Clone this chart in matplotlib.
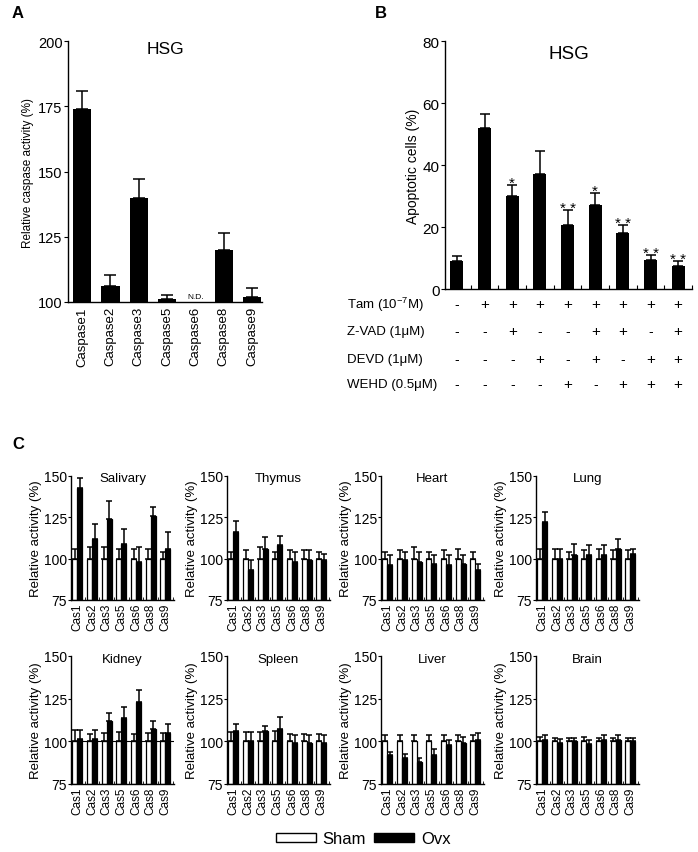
import numpy as np
import matplotlib
matplotlib.use('Agg')
import matplotlib.pyplot as plt
from matplotlib.patches import Patch
from matplotlib.transforms import blended_transform_factory

plt.rcParams['font.family'] = ['Liberation Sans', 'DejaVu Sans']
plt.rcParams['mathtext.fontset'] = 'custom'
plt.rcParams['mathtext.rm'] = 'Liberation Sans'
plt.rcParams['mathtext.default'] = 'rm'
plt.rcParams['axes.linewidth'] = 1.0

# Panel A: HSG caspase activity
caspases = ['Caspase1', 'Caspase2', 'Caspase3', 'Caspase5', 'Caspase6', 'Caspase8', 'Caspase9']
hsg_activity = [174, 106, 140, 101, np.nan, 120, 102]
hsg_activity_err = [7, 4.5, 7, 1.5, np.nan, 6.5, 3.5]

# Panel B: apoptotic cells
apoptotic = [9, 52, 30, 37, 20.5, 27, 18, 9.5, 7.5]
apoptotic_err = [1.5, 4.5, 3.5, 7.5, 5, 4, 2.5, 1.5, 1.5]
apoptotic_sig = ['', '', '*', '', '**', '*', '**', '**', '**']
treat_names = ['Tam (10$^{-7}$M)', 'Z-VAD (1μM)', 'DEVD (1μM)', 'WEHD (0.5μM)']
tam = ['-', '+', '+', '+', '+', '+', '+', '+', '+']
zvad = ['-', '-', '+', '-', '-', '+', '+', '-', '+']
devd = ['-', '-', '-', '+', '-', '+', '-', '+', '+']
wehd = ['-', '-', '-', '-', '+', '-', '+', '+', '+']

# Panel C: tissues, Sham vs Ovx
cas_labels = ['Cas1', 'Cas2', 'Cas3', 'Cas5', 'Cas6', 'Cas8', 'Cas9']
organs = ['Salivary', 'Thymus', 'Heart', 'Lung', 'Kidney', 'Spleen', 'Liver', 'Brain']
sham = [100, 100, 100, 100, 100, 100, 100]

salivary_sham_err = [6, 7, 7, 6, 6, 6, 4]
salivary_ovx = [143, 112, 124, 109, 98, 126, 106]
salivary_ovx_err = [6, 9, 11, 9, 9, 5, 10]

thymus_sham_err = [4, 5, 7, 4, 5, 5, 4]
thymus_ovx = [116, 93, 106, 108, 98, 99, 99]
thymus_ovx_err = [7, 6, 7, 6, 6, 6, 4]

heart_sham_err = [4, 5, 7, 4, 5, 6, 4]
heart_ovx = [96, 99, 98, 97, 96, 97, 93]
heart_ovx_err = [6, 5, 6, 5, 6, 5, 4]

lung_sham_err = [6, 6, 4, 5, 6, 5, 5]
lung_ovx = [122, 100, 102, 102, 102, 106, 103]
lung_ovx_err = [6, 6, 7, 6, 6, 6, 3]

kidney_sham_err = [6.5, 4.5, 5, 5.5, 4.5, 5, 5]
kidney_ovx = [101.5, 101.5, 112, 113.5, 123, 107, 105]
kidney_ovx_err = [5, 5, 4.5, 6.5, 7, 5, 5]

spleen_sham_err = [5.5, 5.5, 5.5, 6, 4.5, 4.5, 4.5]
spleen_ovx = [106, 100, 106, 107, 99, 99, 99]
spleen_ovx_err = [4, 5.5, 3, 7, 4.5, 5, 5]

liver_sham_err = [3.5, 4, 4, 4, 4, 4, 4]
liver_ovx = [92, 90, 88, 92, 98, 99, 101]
liver_ovx_err = [2, 2.5, 2.5, 3.5, 3, 3.5, 4]

brain_sham_err = [2.5, 2, 2, 2.5, 2, 2, 2]
brain_ovx = [101, 99, 100, 98.5, 101, 101, 100]
brain_ovx_err = [3, 2.5, 2, 2.5, 2.5, 2.5, 2]

organ_data = [
    (salivary_sham_err, salivary_ovx, salivary_ovx_err),
    (thymus_sham_err, thymus_ovx, thymus_ovx_err),
    (heart_sham_err, heart_ovx, heart_ovx_err),
    (lung_sham_err, lung_ovx, lung_ovx_err),
    (kidney_sham_err, kidney_ovx, kidney_ovx_err),
    (spleen_sham_err, spleen_ovx, spleen_ovx_err),
    (liver_sham_err, liver_ovx, liver_ovx_err),
    (brain_sham_err, brain_ovx, brain_ovx_err),
]

W, H = 698, 853
fig = plt.figure(figsize=(W / 100, H / 100), dpi=100)


def px_axes(left, top, right, bottom):
    return fig.add_axes([left / W, 1 - bottom / H, (right - left) / W, (bottom - top) / H])


def upper_err(ax, x, y, err, capsize=3.5):
    y = np.asarray(y, float)
    err = np.asarray(err, float)
    ax.errorbar(x, y, yerr=[np.zeros_like(err), err], fmt='none', ecolor='black',
                elinewidth=1.1, capsize=capsize, capthick=1.1, zorder=1)


# ---- Panel A ----
axA = px_axes(68, 42, 262, 303)
xa = np.arange(len(caspases))
valsA = np.array(hsg_activity, float)
ok = ~np.isnan(valsA)
axA.bar(xa[ok], valsA[ok] - 100, bottom=100, width=0.64, color='black', zorder=2)
upper_err(axA, xa[ok], valsA[ok], np.array(hsg_activity_err)[ok], capsize=4)
for i in xa[~ok]:
    axA.text(i, 100.8, 'N.D.', ha='center', va='bottom', fontsize=6)
axA.set_ylim(100, 200)
axA.set_xlim(-0.5, 6.35)
axA.set_yticks([100, 125, 150, 175, 200])
axA.set_xticks(xa)
axA.set_xticklabels(caspases, rotation=90, fontsize=9.5)
axA.tick_params(axis='x', length=0, pad=3)
axA.tick_params(axis='y', labelsize=10.5, length=3, pad=1)
axA.set_ylabel('Relative caspase activity (%)', fontsize=8.5, labelpad=3)
axA.text(0.5, 0.97, 'HSG', transform=axA.transAxes, ha='center', va='center', fontsize=12.5)
for s in ['top', 'right']:
    axA.spines[s].set_visible(False)

# ---- Panel B ----
axB = px_axes(445, 42, 692, 290)
xb = np.arange(len(apoptotic))
axB.bar(xb, apoptotic, width=0.47, color='black', zorder=2)
upper_err(axB, xb, apoptotic, apoptotic_err, capsize=3.5)
for i, s in enumerate(apoptotic_sig):
    if s:
        axB.text(i, apoptotic[i] + apoptotic_err[i] - 1.5, ' '.join(s), ha='center',
                 va='bottom', fontsize=11)
axB.set_ylim(0, 80)
axB.set_xlim(-0.43, 8.4)
axB.set_yticks([0, 20, 40, 60, 80])
axB.set_xticks(xb + 0.5)
axB.set_xticklabels([])
axB.tick_params(axis='x', direction='in', length=3)
axB.tick_params(axis='y', labelsize=11, length=3, pad=1)
axB.set_ylabel('Apoptotic cells (%)', fontsize=10, labelpad=2)
axB.text(0.5, 0.95, 'HSG', transform=axB.transAxes, ha='center', va='center', fontsize=13.5)
for s in ['top', 'right']:
    axB.spines[s].set_visible(False)

trB = blended_transform_factory(axB.transData, fig.transFigure)
row_y = [305, 332, 360, 385]
for name, row, yy in zip(treat_names, [tam, zvad, devd, wehd], row_y):
    fig.text(347 / W, 1 - yy / H, name, ha='left', va='center', fontsize=9.5)
    for i, sign in enumerate(row):
        axB.text(i, 1 - yy / H, sign, transform=trB, ha='center', va='center',
                 fontsize=11 if sign == '+' else 10, clip_on=False)

# ---- Panel C ----
lefts = [71, 227, 381, 536]
rows = [(477, 601), (657, 785)]
xc = np.arange(len(cas_labels))
bw = 0.34
for k, (name, (s_err, ovx, o_err)) in enumerate(zip(organs, organ_data)):
    top, bottom = rows[k // 4]
    left = lefts[k % 4]
    ax = px_axes(left, top, left + 103, bottom)
    ax.bar(xc - bw / 2, np.array(sham) - 75, bottom=75, width=bw, color='white',
           edgecolor='black', linewidth=0.9, zorder=2)
    ax.bar(xc + bw / 2, np.array(ovx) - 75, bottom=75, width=bw, color='black',
           edgecolor='black', linewidth=0.9, zorder=2)
    upper_err(ax, xc - bw / 2, sham, s_err, capsize=2.2)
    upper_err(ax, xc + bw / 2, ovx, o_err, capsize=2.2)
    if name == 'Kidney':
        ax.axhline(100, color='black', lw=0.8, zorder=3)
    ax.set_ylim(75, 150)
    ax.set_xlim(-0.43, 6.58)
    ax.set_yticks([75, 100, 125, 150])
    ax.set_xticks(xc)
    ax.set_xticklabels(cas_labels, rotation=90, fontsize=8.5)
    ax.set_xticks(xc + 0.5, minor=True)
    ax.tick_params(axis='x', which='major', length=0, pad=2)
    ax.tick_params(axis='x', which='minor', direction='in', length=2)
    ax.tick_params(axis='y', labelsize=10, length=2.5, pad=0.5)
    ax.set_ylabel('Relative activity (%)', fontsize=9.5, labelpad=1)
    ax.text(0.5, 0.98, name, transform=ax.transAxes, ha='center', va='center', fontsize=9.5)
    for s in ['top', 'right']:
        ax.spines[s].set_visible(False)

# panel letters
fig.text(12 / W, 1 - 14 / H, 'A', fontsize=12, fontweight='bold', va='center')
fig.text(375 / W, 1 - 14 / H, 'B', fontsize=12, fontweight='bold', va='center')
fig.text(12 / W, 1 - 445 / H, 'C', fontsize=12, fontweight='bold', va='center')

handles = [Patch(facecolor='white', edgecolor='black', linewidth=1, label='Sham'),
           Patch(facecolor='black', edgecolor='black', linewidth=1, label='Ovx')]
fig.legend(handles=handles, loc='center', bbox_to_anchor=(363 / W, 1 - 840 / H), ncol=2,
           frameon=False, fontsize=12, handlelength=2.4, handleheight=0.5,
           handletextpad=0.4, columnspacing=0.5, borderpad=0)

fig.savefig('out.png', dpi=100)
